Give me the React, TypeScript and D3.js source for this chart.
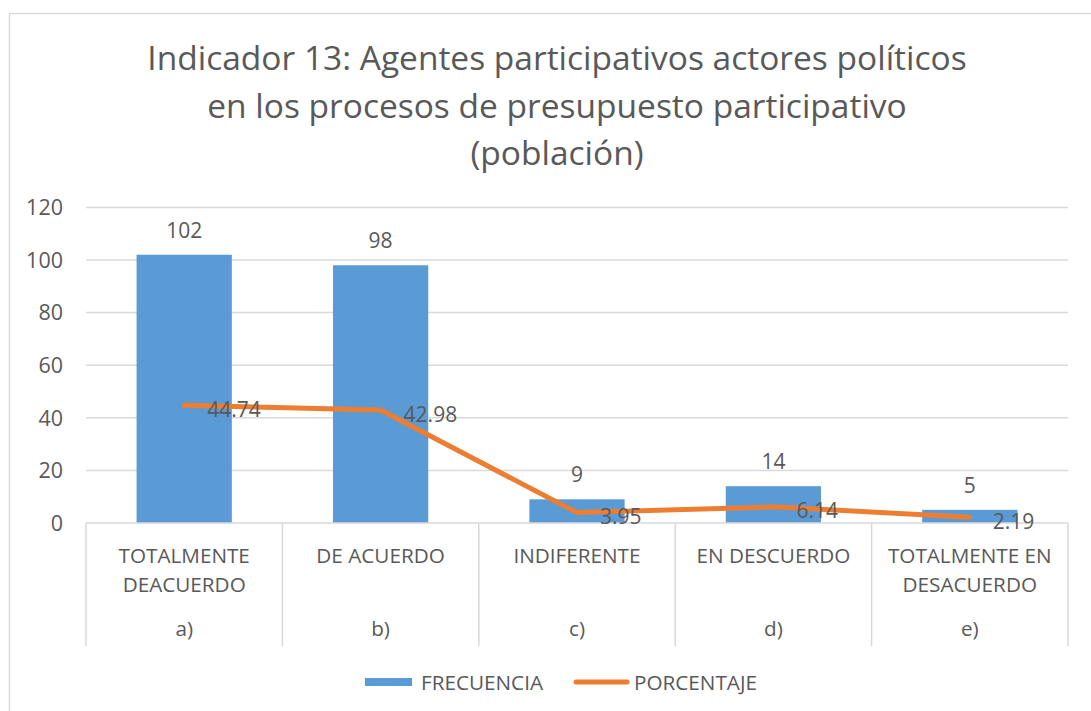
import React from "react";
import * as d3 from "d3";

const titleLines = [
  "Indicador 13: Agentes participativos actores políticos",
  "en los procesos de presupuesto participativo",
  "(población)",
];
const categoryKeys = ["a)", "b)", "c)", "d)", "e)"];
const categoryLabels = [
  ["TOTALMENTE", "DEACUERDO"],
  ["DE ACUERDO"],
  ["INDIFERENTE"],
  ["EN DESCUERDO"],
  ["TOTALMENTE EN", "DESACUERDO"],
];
const frecuencia = [102, 98, 9, 14, 5];
const porcentaje = [44.74, 42.98, 3.95, 6.14, 2.19];
const yTicks = [0, 20, 40, 60, 80, 100, 120];
const seriesNames = ["FRECUENCIA", "PORCENTAJE"];

const W = 1091;
const H = 711;
const BLUE = "#5B9BD5";
const ORANGE = "#ED7D31";
const TEXT = "#595959";
const GRID = "#D9D9D9";
const FONT = "'Open Sans', sans-serif";

export default function App() {
  const x = d3.scaleBand<string>().domain(categoryKeys).range([86, 1068]).paddingInner(0).paddingOuter(0);
  const y = d3.scaleLinear().domain([0, 120]).range([523, 207.4]);
  const bw = x.bandwidth() * 0.485;
  const cx = (k: string) => (x(k) as number) + x.bandwidth() / 2;
  const line = d3
    .line<number>()
    .x((_, i) => cx(categoryKeys[i]))
    .y((d) => y(d));

  return (
    <svg
      width={W}
      height={H}
      style={{ position: "absolute", left: 0, top: 0, background: "#fff" }}
      fontFamily={FONT}
    >
      <rect x={9.5} y={13.5} width={W + 20} height={H + 20} fill="#fff" stroke={GRID} strokeWidth={1.5} />
      {titleLines.map((t, i) => (
        <text key={i} x={557} y={70 + i * 47.5} textAnchor="middle" fontSize={33.5} fill={TEXT}>
          {t}
        </text>
      ))}
      {yTicks.map((t) => (
        <g key={t}>
          {t > 0 && <line x1={86} x2={1068} y1={y(t)} y2={y(t)} stroke={GRID} strokeWidth={1.5} />}
          <text x={63} y={y(t)} dy="0.36em" textAnchor="end" fontSize={21.5} fill={TEXT}>
            {t}
          </text>
        </g>
      ))}
      {frecuencia.map((v, i) => {
        const k = categoryKeys[i];
        return (
          <g key={k}>
            <rect x={cx(k) - bw / 2} y={y(v)} width={bw} height={y(0) - y(v)} fill={BLUE} />
            <text x={cx(k)} y={y(v) - 17} textAnchor="middle" fontSize={21} fill={TEXT}>
              {v}
            </text>
          </g>
        );
      })}
      <line x1={86} x2={1068} y1={y(0)} y2={y(0)} stroke={GRID} strokeWidth={1.5} />
      {[...categoryKeys.map((k) => x(k) as number), 1068].map((bx, i) => (
        <line key={i} x1={bx} x2={bx} y1={y(0)} y2={646} stroke={GRID} strokeWidth={1.5} />
      ))}
      {categoryKeys.map((k, i) => (
        <g key={k}>
          {categoryLabels[i].map((l, j) => (
            <text key={j} x={cx(k)} y={563 + j * 29} textAnchor="middle" fontSize={20.7} fill={TEXT}>
              {l}
            </text>
          ))}
          <text x={cx(k)} y={636} textAnchor="middle" fontSize={20.7} fill={TEXT}>
            {k}
          </text>
        </g>
      ))}
      <path d={line(porcentaje) || ""} fill="none" stroke={ORANGE} strokeWidth={5} strokeLinecap="round" strokeLinejoin="round" />
      {porcentaje.map((v, i) => (
        <text key={i} x={cx(categoryKeys[i]) + 23} y={y(v) + 4} dy="0.36em" fontSize={21} fill={TEXT}>
          {v.toFixed(2)}
        </text>
      ))}
      <rect x={365} y={678} width={47} height={8} fill={BLUE} />
      <text x={421} y={690} fontSize={20.7} fill={TEXT}>
        {seriesNames[0]}
      </text>
      <line x1={576} x2={627} y1={682} y2={682} stroke={ORANGE} strokeWidth={5} strokeLinecap="round" />
      <text x={634} y={690} fontSize={20.7} fill={TEXT}>
        {seriesNames[1]}
      </text>
    </svg>
  );
}
